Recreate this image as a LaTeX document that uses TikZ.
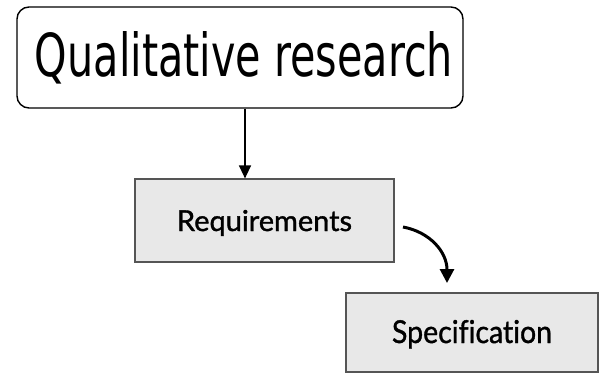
\documentclass[tikz,border=0pt]{standalone}
\usepackage{fontspec}
\usetikzlibrary{arrows.meta}
\newfontfamily\topfont{DejaVu Sans}
\newfontfamily\gillfont[Ligatures={NoCommon},FakeBold=1.2]{Lato}
\definecolor{boxgray}{HTML}{E8E8E8}
\definecolor{boxedge}{HTML}{555555}
\tikzset{
  topbox/.style={draw=black, line width=1.4pt, rounded corners=12pt, fill=white, inner sep=0pt},
  graybox/.style={draw=boxedge, line width=1.2pt, fill=boxgray, inner sep=0pt},
  thinarrow/.style={line width=1.3pt, -{Triangle[width=12pt,length=13pt]}},
  thickarrow/.style={line width=3pt, -{Triangle[width=14pt,length=14pt]}},
}
\begin{document}
\begin{tikzpicture}[x=1pt,y=1pt]
\useasboundingbox (0,0) rectangle (607,-374);
\node[topbox, minimum width=446pt, minimum height=101pt, text height=45pt, text depth=6pt] (top) at (240,-57.5)
  {\hspace*{8pt}\resizebox{418pt}{45pt}{\topfont Qualitative research}};
\node[graybox, minimum width=259pt, minimum height=83pt, text height=21pt, text depth=0pt] (req) at (264.5,-220.5)
  {\resizebox{175pt}{21pt}{\gillfont Requirements}};
\node[graybox, minimum width=252pt, minimum height=79pt, text height=23pt, text depth=2pt] (spec) at (472,-332.5)
  {\resizebox{160pt}{23pt}{\gillfont Specification}};
\coordinate (c1) at (245,0);
\coordinate (s1) at (403,-227);
\coordinate (e1) at (447,-283);
\draw[thinarrow] (top.south -| c1) -- (req.north -| c1);
\draw[thickarrow] (s1) .. controls (430,-232) and (447,-252) .. (e1);
\end{tikzpicture}
\end{document}
